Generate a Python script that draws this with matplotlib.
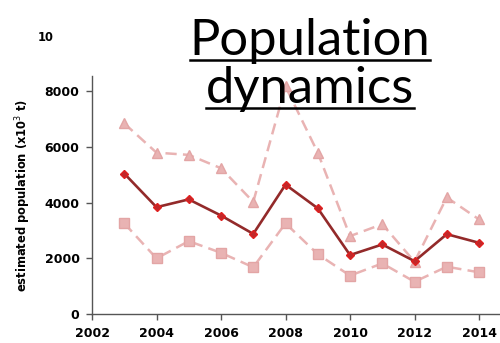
import matplotlib
matplotlib.use("Agg")
import matplotlib.pyplot as plt
from matplotlib.lines import Line2D

years = [2003, 2004, 2005, 2006, 2007, 2008, 2009, 2010, 2011, 2012, 2013, 2014]
estimate = [5050, 3840, 4120, 3540, 2880, 4650, 3800, 2120, 2500, 1900, 2870, 2560]
upper = [6850, 5800, 5720, 5240, 4030, 8180, 5800, 2800, 3230, 1880, 4190, 3400]
lower = [3260, 2000, 2620, 2200, 1680, 3260, 2150, 1380, 1820, 1160, 1700, 1500]

x_ticks = [2002, 2004, 2006, 2008, 2010, 2012, 2014]
y_ticks = [0, 2000, 4000, 6000, 8000]

fig = plt.figure(figsize=(5, 3.43), dpi=100)
ax = fig.add_axes([0.184, 0.0845, 0.816, 0.6935])

band = '#e9b3b3'
ax.plot(years, upper, '--', color=band, lw=1.8, dashes=(4.5, 2.5),
        marker='^', ms=7, mfc=band, mec='#e3a5a5', zorder=2)
ax.plot(years, lower, '--', color=band, lw=1.8, dashes=(4.5, 2.5),
        marker='s', ms=7, mfc=band, mec='#e3a5a5', zorder=2)
ax.plot(years, estimate, '-', color='#932a2a', lw=1.9,
        marker='D', ms=4.5, mfc='#c0282a', mec='#e02020', zorder=3)

ax.set_xlim(2002, 2014.65)
ax.set_ylim(0, 8550)
ax.set_xticks(x_ticks)
ax.set_yticks(y_ticks)
for s in ['top', 'right']:
    ax.spines[s].set_visible(False)
for s in ['left', 'bottom']:
    ax.spines[s].set_color('#555555')
    ax.spines[s].set_linewidth(1)
ax.tick_params(direction='out', length=4, color='#555555', width=1,
               labelsize=9, pad=5)
for lab in ax.get_xticklabels() + ax.get_yticklabels():
    lab.set_fontweight('bold')

ax.set_ylabel('estimated population (x10$^3$ t)', fontsize=8.3,
              fontweight='bold', labelpad=8)

fig.text(0.092, 0.89, '10', fontsize=8.3, fontweight='bold',
         ha='center', va='center')

# two-line underlined heading
fig.canvas.draw()
r = fig.canvas.get_renderer()
for txt, y_base in [('Population', 0.84), ('dynamics', 0.70)]:
    t = fig.text(0.62, y_base, txt, fontsize=36.5, family='Lato',
                 ha='center', va='baseline')
    bb = t.get_window_extent(renderer=r)
    x0 = bb.x0 / fig.bbox.width
    x1 = bb.x1 / fig.bbox.width
    y_u = y_base - 0.016
    fig.add_artist(Line2D([x0, x1], [y_u, y_u], color='black', lw=1.8,
                          transform=fig.transFigure))

fig.savefig('out.png', dpi=100)
